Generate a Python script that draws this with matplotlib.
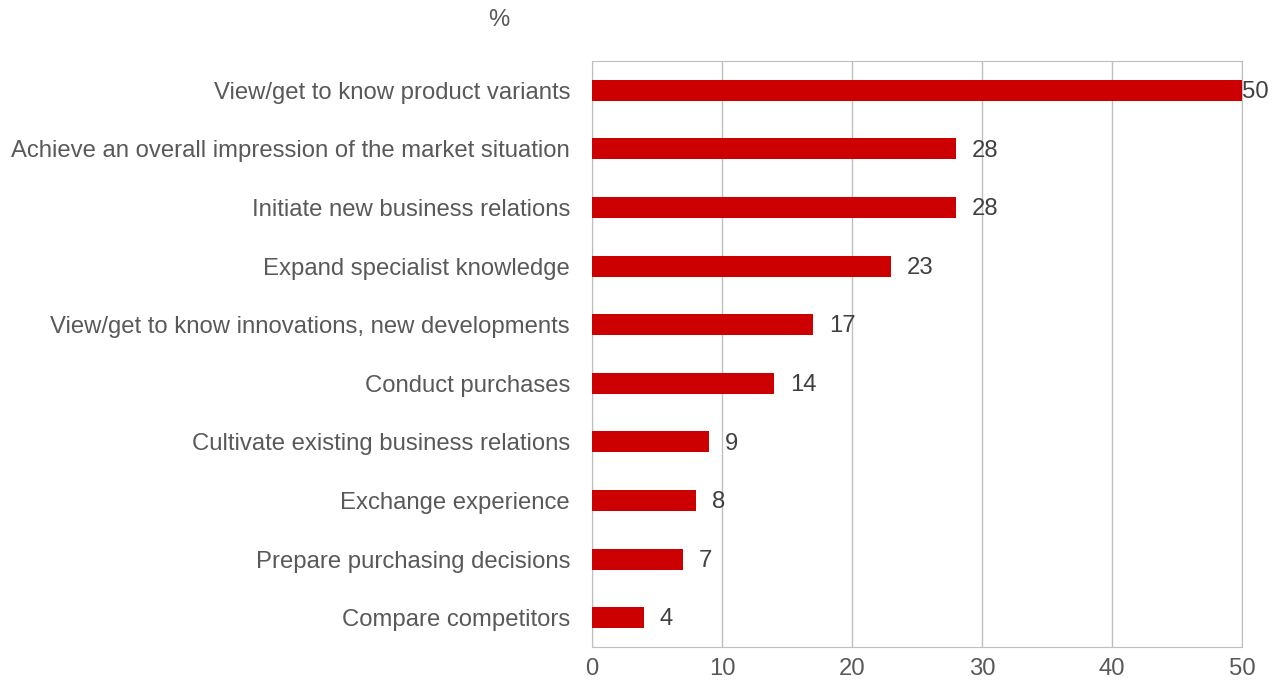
import matplotlib.pyplot as plt

plt.rcParams['font.family'] = ['Liberation Sans', 'DejaVu Sans']

reasons = [
    'View/get to know product variants',
    'Achieve an overall impression of the market situation',
    'Initiate new business relations',
    'Expand specialist knowledge',
    'View/get to know innovations, new developments',
    'Conduct purchases',
    'Cultivate existing business relations',
    'Exchange experience',
    'Prepare purchasing decisions',
    'Compare competitors',
]
shares = [50, 28, 28, 23, 17, 14, 9, 8, 7, 4]
xticks = [0, 10, 20, 30, 40, 50]

fig = plt.figure(figsize=(12.79, 6.91), dpi=100)
ax = fig.add_axes([0.4629, 0.0637, 0.5082, 0.848])

pos = list(range(len(reasons)))
ax.barh(pos, shares, height=0.36, color='#CC0000', zorder=3)
ax.set_ylim(len(reasons) - 0.5, -0.5)
ax.set_xlim(0, 50)
ax.set_xticks(xticks)
ax.set_yticks(pos)
ax.set_yticklabels(reasons, fontsize=17.2, color='#595959')
ax.tick_params(axis='x', labelsize=17.2, labelcolor='#595959', length=0, pad=8)
ax.tick_params(axis='y', length=0, pad=15.8)
ax.grid(axis='x', color='#BFBFBF', linewidth=1, zorder=0)
for s in ax.spines.values():
    s.set_color('#BFBFBF')

for p, v in zip(pos, shares):
    off = 0.0 if v >= 50 else 1.2
    ax.text(v + off, p + 0.03, str(v), va='center', ha='left', fontsize=17.2, color='#404040')

fig.text(499 / 1279, 1 - 20 / 691, '%', ha='center', va='center', fontsize=17.2, color='#595959')

fig.savefig('out.png', dpi=100)
